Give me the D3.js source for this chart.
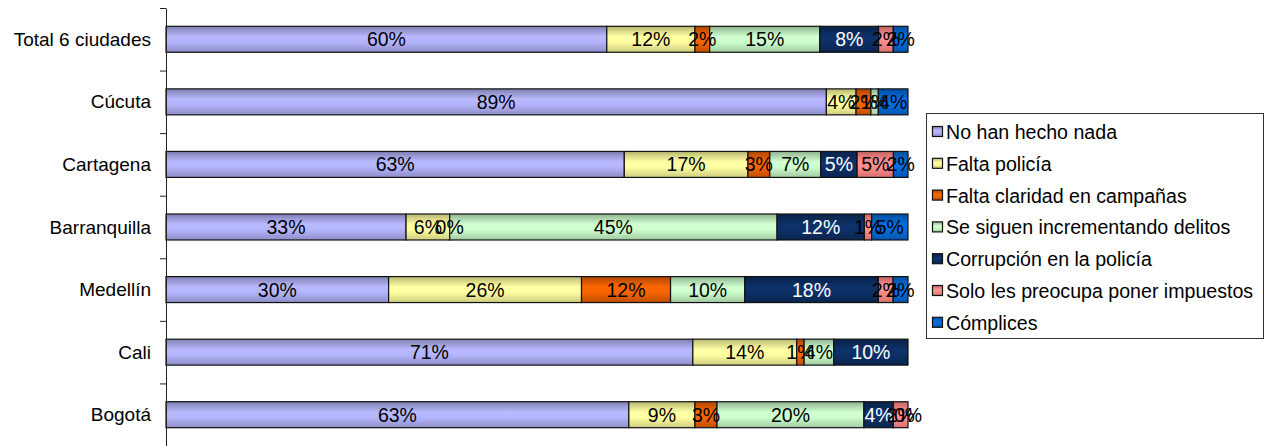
<!DOCTYPE html>
<html>
<head>
<meta charset="utf-8">
<script src="https://cdn.jsdelivr.net/npm/d3@7"></script>
<style>
  html, body { margin: 0; padding: 0; background: #fff; }
  svg { display: block; font-family: "Liberation Sans", Arial, sans-serif; }
</style>
</head>
<body>
<svg id="chart" width="1270" height="446"></svg>
<script>
// Categories (top to bottom)
const categories = ["Total 6 ciudades", "Cúcuta", "Cartagena", "Barranquilla", "Medellín", "Cali", "Bogotá"];

// Series names (legend order = stacking order)
const seriesNames = [
  "No han hecho nada",
  "Falta policía",
  "Falta claridad en campañas",
  "Se siguen incrementando delitos",
  "Corrupción en la policía",
  "Solo les preocupa poner impuestos",
  "Cómplices"
];

// Percentages per series, one per category (null = no answer recorded)
const noHanHechoNada   = [60, 89, 63, 33, 30, 71, 63];
const faltaPolicia     = [12,  4, 17,  6, 26, 14,  9];
const faltaClaridad    = [ 2,  2,  3,  0, 12,  1,  3];
const seSiguen         = [15,  1,  7, 45, 10,  4, 20];
const corrupcion       = [ 8, null, 5, 12, 18, 10,  4];
const soloImpuestos    = [ 2, null, 5,  1,  2, null, 2];
const complices        = [ 2,  4,  2,  5,  2, null, 0];

const seriesValues = [noHanHechoNada, faltaPolicia, faltaClaridad, seSiguen, corrupcion, soloImpuestos, complices];

const seriesColors = ["#a6a6e8", "#f0f094", "#e25c00", "#bcedbc", "#0c2c5e", "#ff8282", "#0064cc"];
const labelColors  = ["#000", "#000", "#000", "#000", "#fff", "#000", "#000"];

// Table for d3.stack
const table = categories.map((c, i) => {
  const row = { category: c };
  seriesNames.forEach((s, j) => { row[s] = seriesValues[j][i] == null ? 0 : seriesValues[j][i]; });
  return row;
});

const stacked = d3.stack()
  .keys(seriesNames)
  .offset(d3.stackOffsetExpand)(table);

const svg = d3.select("#chart");

const x = d3.scaleLinear().domain([0, 1]).range([166, 908]);
const y = d3.scaleBand().domain(categories).range([8, 446]).paddingInner(0.585).paddingOuter(0.2925);

// Cylinder-like vertical gradients
const defs = svg.append("defs");
seriesColors.forEach((c, i) => {
  const g = defs.append("linearGradient")
    .attr("id", "grad" + i)
    .attr("x1", 0).attr("y1", 0).attr("x2", 0).attr("y2", 1);
  const base = d3.color(c);
  g.append("stop").attr("offset", "0%").attr("stop-color", base.darker(0.75).formatHex());
  g.append("stop").attr("offset", "40%").attr("stop-color", base.brighter(0.3).formatHex());
  g.append("stop").attr("offset", "60%").attr("stop-color", base.brighter(0.25).formatHex());
  g.append("stop").attr("offset", "100%").attr("stop-color", base.darker(0.45).formatHex());
});

// Bars
const layers = svg.append("g").selectAll("g")
  .data(stacked)
  .join("g")
  .attr("fill", (d, i) => "url(#grad" + i + ")");

layers.selectAll("rect")
  .data((d, i) => d.map((p, k) => ({ p, k, i })))
  .join("rect")
  .filter(d => seriesValues[d.i][d.k] != null && seriesValues[d.i][d.k] > 0)
  .attr("x", d => x(d.p[0]))
  .attr("y", d => y(categories[d.k]))
  .attr("width", d => x(d.p[1]) - x(d.p[0]))
  .attr("height", y.bandwidth())
  .attr("stroke", "#111")
  .attr("stroke-width", 1.2);

// Value labels
const labels = svg.append("g").attr("font-size", 19.5);
stacked.forEach((layer, i) => {
  layer.forEach((p, k) => {
    const v = seriesValues[i][k];
    if (v == null) return;
    labels.append("text")
      .attr("x", (x(p[0]) + x(p[1])) / 2)
      .attr("y", y(categories[k]) + y.bandwidth() / 2 + 7)
      .attr("text-anchor", "middle")
      .attr("fill", labelColors[i])
      .text(v + "%");
  });
});

// Category axis: line with ticks between categories
const tickY = d3.range(categories.length + 1).map(k => 8 + k * y.step());
const axisScale = d3.scaleLinear().domain([8, 446]).range([8, 446]);
svg.append("g")
  .attr("transform", "translate(166,0)")
  .call(d3.axisLeft(axisScale).tickValues(tickY).tickSize(6).tickSizeOuter(0).tickFormat(""))
  .call(g => g.selectAll("path, line").attr("stroke", "#222").attr("stroke-width", 1));

svg.append("g")
  .attr("font-size", 19)
  .selectAll("text")
  .data(categories)
  .join("text")
  .attr("x", 151)
  .attr("y", d => y(d) + y.bandwidth() / 2 + 6.5)
  .attr("text-anchor", "end")
  .attr("fill", "#000")
  .text(d => d);

// Legend
const legend = svg.append("g");
legend.append("rect")
  .attr("x", 926.5).attr("y", 113.5)
  .attr("width", 337).attr("height", 225)
  .attr("fill", "#fff")
  .attr("stroke", "#333")
  .attr("stroke-width", 1);

const items = legend.selectAll("g.item")
  .data(seriesNames)
  .join("g")
  .attr("class", "item")
  .attr("transform", (d, i) => `translate(932, ${132 + i * 31.8})`);

items.append("rect")
  .attr("x", 0.5).attr("y", -5.5)
  .attr("width", 10).attr("height", 10)
  .attr("fill", (d, i) => "url(#grad" + i + ")")
  .attr("stroke", "#111")
  .attr("stroke-width", 1.2);

items.append("text")
  .attr("x", 14)
  .attr("y", 7)
  .attr("font-size", 19.6)
  .attr("fill", "#000")
  .text(d => d);
</script>
</body>
</html>
